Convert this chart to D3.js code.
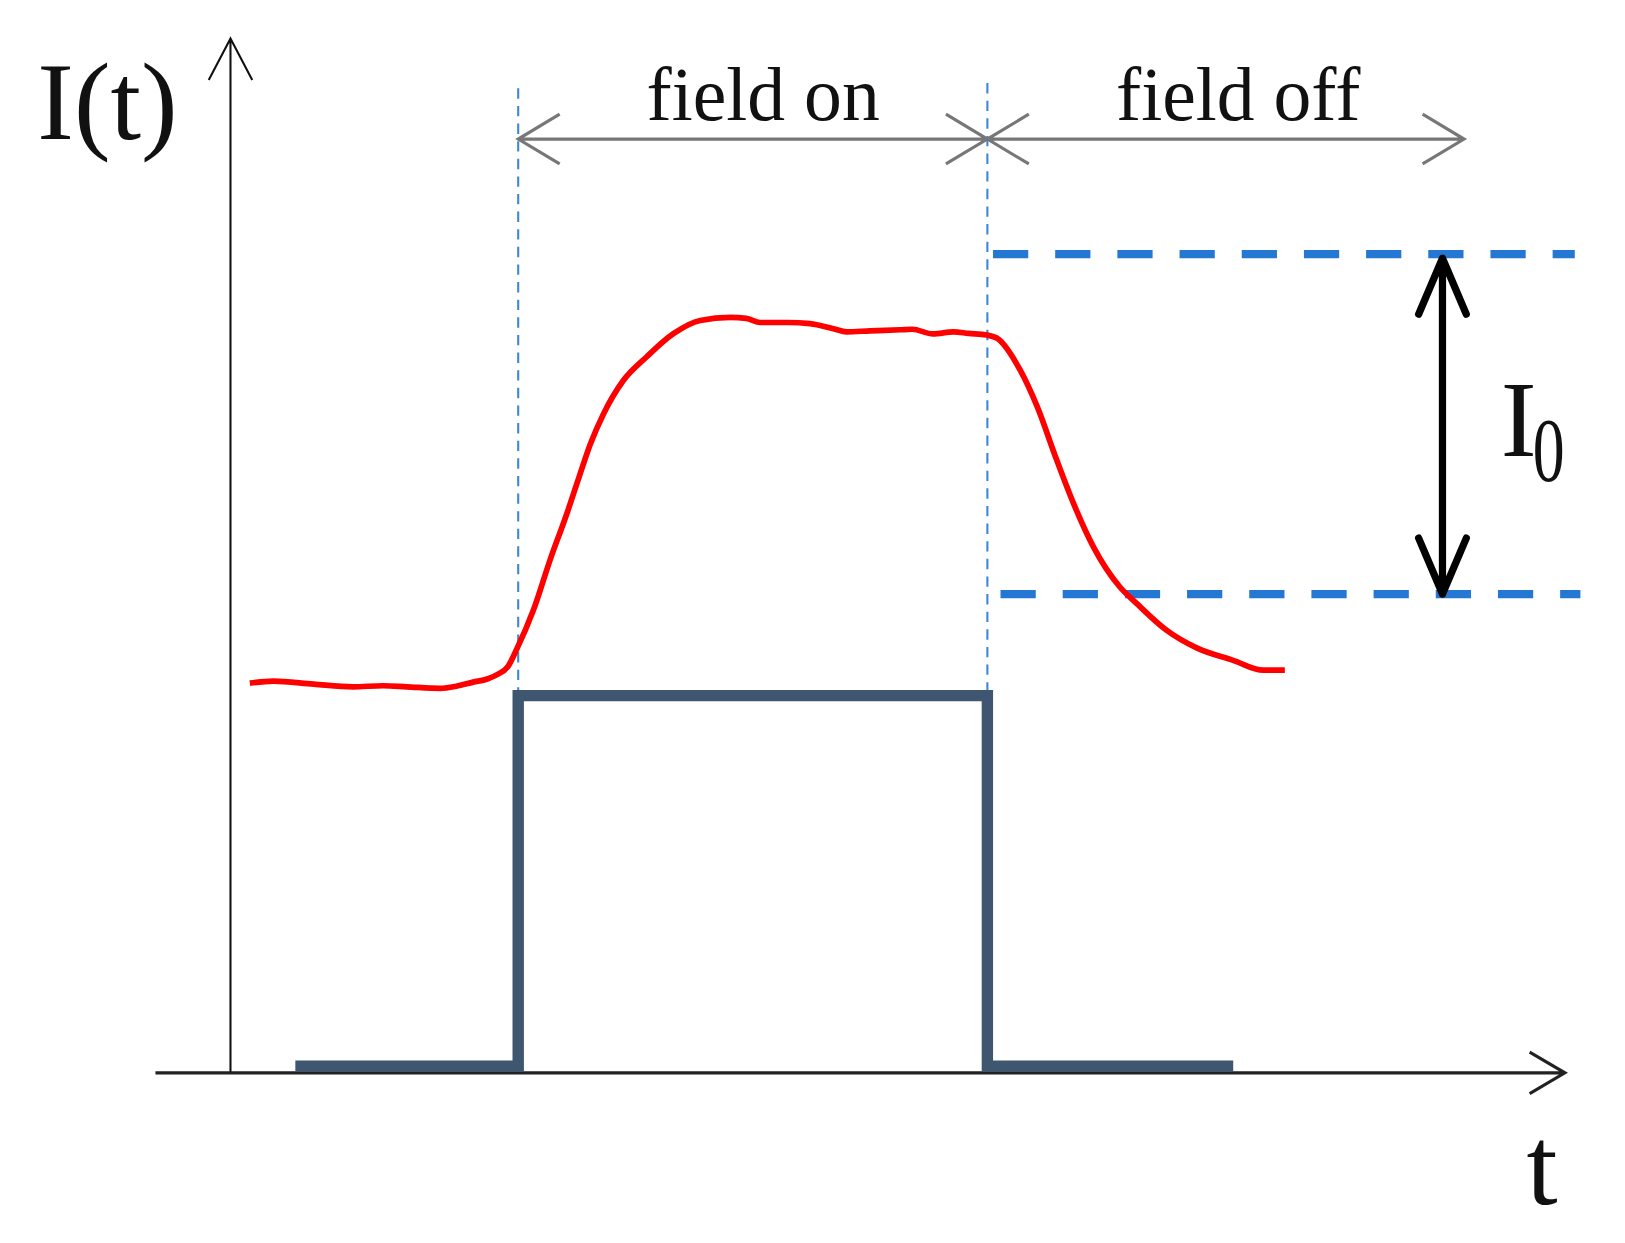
<!DOCTYPE html>
<html>
<head>
<meta charset="utf-8">
<script src="https://cdn.jsdelivr.net/npm/d3@7"></script>
<style>
  html, body { margin: 0; padding: 0; background: #fff; }
  svg { display: block; }
  text { font-family: "Liberation Serif", "Times New Roman", serif; fill: #111; }
</style>
</head>
<body>
<svg id="chart"></svg>
<script>
// measured signal I(t), arbitrary units
const times = [0.14, 0.39, 0.82, 1.24, 1.56, 1.81, 2.17, 2.34, 2.52, 2.67, 2.77, 2.89, 2.98, 3.16, 3.34, 3.52,
  3.66, 3.77, 3.91, 4.12, 4.37, 4.65, 4.94, 5.26, 5.43, 5.58, 5.87, 6.11, 6.36, 6.50, 6.75, 7.07, 7.20, 7.42,
  7.64, 7.80, 7.99, 8.10, 8.35, 8.53, 8.74, 8.92, 9.13, 9.41, 9.59, 9.91, 10.23, 10.62, 10.94, 11.17];
const intensity = [37.6, 37.8, 37.5, 37.25, 37.35, 37.25, 37.1, 37.3, 37.7, 38.0, 38.4, 39.2, 40.8, 44.6, 49.5, 54.0,
  57.8, 60.7, 63.6, 66.8, 69.1, 71.3, 72.6, 72.9, 72.8, 72.4, 72.4, 72.3, 71.8, 71.5, 71.6, 71.7, 71.75, 71.3,
  71.5, 71.35, 71.2, 70.9, 67.8, 64.3, 59.1, 54.9, 50.75, 46.9, 45.3, 42.7, 41.0, 39.8, 38.85, 38.85];

// applied field pulse (step after each time)
const pulseTimes = [0.625, 3.0, 8.0, 10.62];
const pulseLevels = [0.65, 36.4, 0.65, 0.65];

const fieldOnTime = 3.0;
const fieldOffTime = 8.0;
const fieldOffEnd = 13.08;
const i0Levels = [79.0, 46.2];
const i0Starts = [8.06, 8.14];
const i0Ends = [14.26, 14.32];
const i0ArrowTime = 12.85;

const labels = ["field on", "field off"];

// drawn in the 1568x1199 frame of the reference, scaled up to the page
const W = 1568, H = 1199;
const svg = d3.select("#chart")
  .attr("width", 1625)
  .attr("height", 1243)
  .attr("viewBox", `0 0 ${W} ${H}`);

const x = d3.scaleLinear().domain([0, 14]).range([228.4, 1496]);
const y = d3.scaleLinear().domain([0, 100]).range([1035, 35]);

// open chevron head at (tx, ty) pointing along angle a
function chevron(tx, ty, a, len, half) {
  const ca = Math.cos(a), sa = Math.sin(a);
  const bx = tx - ca * len, by = ty - sa * len;
  return `M${bx - sa * half},${by + ca * half}L${tx},${ty}L${bx + sa * half},${by - ca * half}`;
}

// axes
const x0 = x(0) - 6;
svg.append("path")
  .attr("d", `M${x0},${y(0)}V37` + chevron(x0, 37, -Math.PI / 2, 40, 21))
  .attr("fill", "none").attr("stroke", "#111").attr("stroke-width", 2);
svg.append("path")
  .attr("d", `M150,${y(0)}H1510` + chevron(1510, y(0), 0, 34, 20))
  .attr("fill", "none").attr("stroke", "#222").attr("stroke-width", 3);

svg.append("text")
  .attr("x", 36).attr("y", 134)
  .style("font-size", "106px")
  .text("I(t)");
svg.append("text")
  .attr("x", 1473).attr("y", 1162)
  .style("font-size", "108px")
  .text("t");

// field on / off boundaries
[fieldOnTime, fieldOffTime].forEach((t, i) => {
  svg.append("line")
    .attr("x1", x(t)).attr("x2", x(t))
    .attr("y1", i === 0 ? 85 : 80).attr("y2", y(pulseLevels[1]))
    .attr("stroke", "#3b86d6").attr("stroke-width", 2)
    .attr("stroke-dasharray", "10,7");
});

// interval arrows
const arrowY = 134;
[[fieldOnTime, fieldOffTime], [fieldOffTime, fieldOffEnd]].forEach(([a, b], i) => {
  svg.append("path")
    .attr("d", `M${x(a)},${arrowY}H${x(b)}` +
      chevron(x(a), arrowY, Math.PI, 40, 24) + chevron(x(b), arrowY, 0, 40, 24))
    .attr("fill", "none").attr("stroke", "#777").attr("stroke-width", 3);
  svg.append("text")
    .attr("x", (x(a) + x(b)) / 2 + (i === 0 ? 10 : 12)).attr("y", 116)
    .attr("text-anchor", "middle")
    .style("font-size", "73px")
    .text(labels[i]);
});

// I0 reference levels
i0Levels.forEach((v, i) => {
  svg.append("line")
    .attr("x1", x(i0Starts[i])).attr("x2", x(i0Ends[i]))
    .attr("y1", y(v)).attr("y2", y(v))
    .attr("stroke", "#2477d2").attr("stroke-width", 8)
    .attr("stroke-dasharray", "34,26");
});

const ax = x(i0ArrowTime);
svg.append("path")
  .attr("d", `M${ax},${y(i0Levels[0]) + 4}V${y(i0Levels[1])}` +
    chevron(ax, y(i0Levels[0]) + 4, -Math.PI / 2, 54, 23) +
    chevron(ax, y(i0Levels[1]), Math.PI / 2, 54, 23))
  .attr("fill", "none").attr("stroke", "#000").attr("stroke-width", 7)
  .attr("stroke-linejoin", "round").attr("stroke-linecap", "round");

svg.append("text")
  .attr("x", 1448).attr("y", 440)
  .style("font-size", "104px")
  .text("I");
svg.append("text")
  .attr("transform", "translate(1479,464) scale(0.7,1)")
  .style("font-size", "88px")
  .text("0");

// field pulse
const pulse = pulseTimes.map((t, i) => [t, pulseLevels[i]]);
svg.append("path")
  .datum(pulse)
  .attr("d", d3.line().x(d => x(d[0])).y(d => y(d[1])).curve(d3.curveStepAfter))
  .attr("fill", "none").attr("stroke", "#3e566f").attr("stroke-width", 11)
  .attr("stroke-linejoin", "miter");

// signal
const signal = times.map((t, i) => [t, intensity[i]]);
svg.append("path")
  .datum(signal)
  .attr("d", d3.line().x(d => x(d[0])).y(d => y(d[1])).curve(d3.curveMonotoneX))
  .attr("fill", "none").attr("stroke", "#ff0000").attr("stroke-width", 5.5)
  .attr("stroke-linejoin", "round");
</script>
</body>
</html>
